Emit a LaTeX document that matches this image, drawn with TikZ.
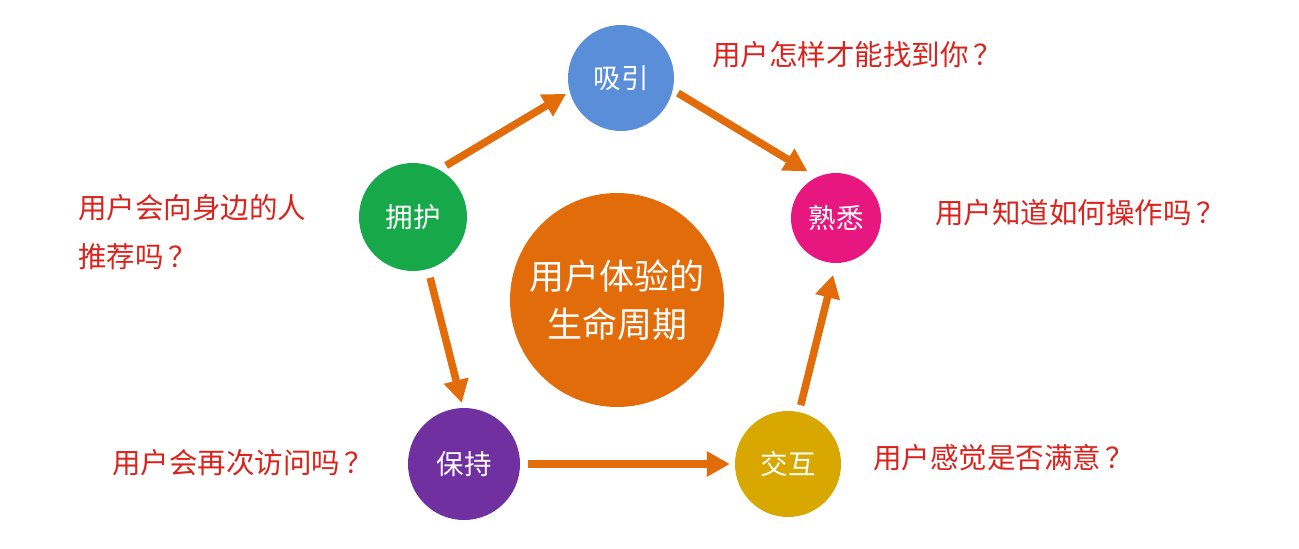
\documentclass[tikz,border=0pt]{standalone}
\usepackage{fontspec}
\newfontfamily\cjk{Noto Sans CJK SC}
\usetikzlibrary{arrows.meta}
\definecolor{cblue}{HTML}{5B8ED8}
\definecolor{cmag}{HTML}{E8177F}
\definecolor{cgreen}{HTML}{17A84A}
\definecolor{cpurple}{HTML}{7030A0}
\definecolor{cgold}{HTML}{D9A800}
\definecolor{corange}{HTML}{E36C0A}
\definecolor{cred}{HTML}{D9231C}
\tikzset{
  stage/.style={circle, inner sep=0pt, text=white, font=\cjk\fontsize{27.5}{30}\selectfont},
  question/.style={anchor=west, text=cred, inner sep=0pt, font=\cjk\fontsize{28.5}{30}\selectfont},
  flow/.style={corange, line width=7.5pt, -{Triangle[length=23pt,width=24pt]}}
}
\begin{document}
\begin{tikzpicture}[x=1pt,y=-1pt]
\useasboundingbox (0,0) rectangle (1299,549);
\fill[white] (0,0) rectangle (1299,549);
% central
\node[circle, fill=corange, minimum size=214pt, inner sep=0pt, text=white, align=center,
  font=\cjk\fontsize{35}{48}\selectfont] (core) at (617,300) {用户体验的\\生命周期};
% stages
\node[stage, fill=cblue, minimum size=106pt] (xy) at (621,78) {吸引};
\node[stage, fill=cmag, minimum size=90pt] (sx) at (836,218) {熟悉};
\node[stage, fill=cgreen, minimum size=108pt] (yh) at (413,217) {拥护};
\node[stage, fill=cpurple, minimum size=112pt] (bc) at (464,464) {保持};
\node[stage, fill=cgold, minimum size=106pt] (jh) at (788,464) {交互};
% arrows
\draw[flow, shorten <=8pt, shorten >=4pt] (yh.61) -- (xy.195);
\draw[flow, shorten <=6pt, shorten >=11pt] (xy.347) -- (sx.115);
\draw[flow, shorten <=9pt, shorten >=5pt] (yh.286) -- (bc.91);
\draw[flow, shorten <=8pt, shorten >=5pt] (bc.0) -- (jh.180);
\draw[flow, shorten <=7pt, shorten >=12pt] (jh.78) -- (sx.270);
% questions
\node[question] (q1) at (712,55) {用户怎样才能找到你\,？};
\node[question] (q2) at (935,213) {用户知道如何操作吗\,？};
\node[question] (q3) at (78,208) {用户会向身边的人};
\node[question] (q3b) at (78,257) {推荐吗\,？};
\node[question] (q4) at (112,463) {用户会再次访问吗\,？};
\node[question] (q5) at (873,458) {用户感觉是否满意\,？};
\end{tikzpicture}
\end{document}
